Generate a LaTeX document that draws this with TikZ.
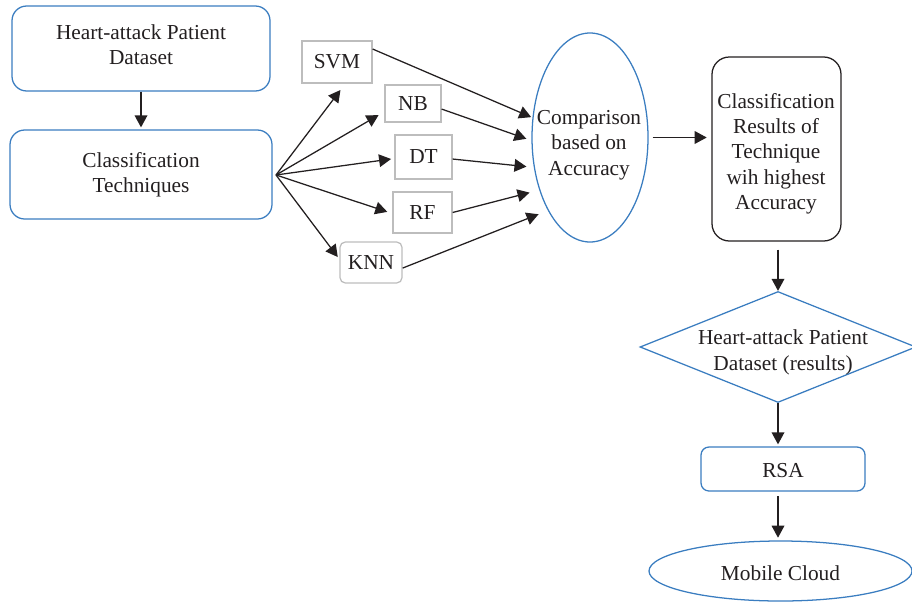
\documentclass[tikz,border=0pt]{standalone}
\usepackage{fontspec}
\setmainfont{Liberation Serif}
\usetikzlibrary{shapes.geometric,arrows.meta}
\definecolor{bl}{HTML}{3A7DC0}
\definecolor{gr}{HTML}{BDBDBD}
\definecolor{tx}{HTML}{231F20}
\begin{document}
\begin{tikzpicture}[x=0.75pt,y=-0.75pt,
  every node/.style={font=\fontsize{16}{19}\selectfont, text=tx, align=center, inner sep=0pt},
  bluebox/.style={draw=bl, line width=0.95pt, rounded corners=11pt},
  graybox/.style={draw=gr, line width=0.95pt},
  arr/.style={draw=tx, line width=0.95pt, -{Triangle[length=9pt,width=9.5pt]}},
]
\useasboundingbox (0,0) rectangle (912,603);

% left column
\node[bluebox, minimum width=193.5pt, minimum height=63.75pt] (ds) at (141,48.5) {};
\node (dst) at (141,44.5) {Heart-attack Patient\\Dataset};
\node[bluebox, minimum width=196.5pt, minimum height=66.75pt] (ct) at (141,174.5) {Classification\\Techniques};
\coordinate (fan) at (276,175);

% techniques
\node[graybox, minimum width=52.5pt, minimum height=31.5pt] (svm) at (337,62) {SVM};
\node[graybox, minimum width=42pt, minimum height=27.75pt] (nb) at (413,103.5) {NB};
\node[graybox, minimum width=42.75pt, minimum height=33pt] (dt) at (423.5,157) {DT};
\node[graybox, minimum width=44.25pt, minimum height=30.75pt] (rf) at (422.5,212.5) {RF};
\node[graybox, rounded corners=4pt, minimum width=46.5pt, minimum height=30.75pt] (knn) at (371,262.5) {KNN};

% comparison
\node[ellipse, draw=bl, line width=0.95pt, minimum width=87pt, minimum height=156.75pt] (cmp) at (590,137.5) {};
\node (cmpt) at (589,145) {Comparison\\based on\\Accuracy};

% result box
\node[draw=tx, line width=0.95pt, rounded corners=13pt, minimum width=96.75pt, minimum height=138pt] (res) at (776.5,149) {};
\node (rest) at (776,153.5) {Classification\\Results of\\Technique\\wih highest\\Accuracy};

% diamond
\node[diamond, draw=bl, line width=0.95pt, minimum width=207pt, minimum height=83.25pt] (dia) at (778,347) {};
\node (diat) at (783,352.5) {Heart-attack Patient\\Dataset (results)};

% RSA
\node[bluebox, rounded corners=6pt, minimum width=123pt, minimum height=33pt] (rsa) at (783,469) {};
\node (rsat) at (783,471) {RSA};

% cloud
\node[ellipse, draw=bl, line width=0.95pt, minimum width=197.25pt, minimum height=45pt] (cloud) at (780.5,571) {};
\node (cloudt) at (780.5,573) {Mobile Cloud};

% connectors
\draw[arr, shorten >=1.5pt] (ds.south) -- (ct.north);
\draw[arr, shorten >=6pt] (fan) -- (svm.-69);
\draw[arr, shorten >=5pt] (fan) -- (nb.-164);
\draw[arr, shorten >=2.5pt] (fan) -- (dt.183);
\draw[arr, shorten >=4pt] (fan) -- (rf.182);
\draw[arr, shorten >=2pt] (fan) -- (knn.174);

\draw[arr, shorten >=1pt] (svm.20) -- (cmp.161);
\draw[arr, shorten >=4pt] (nb.-11) -- (cmp.183.5);
\draw[arr, shorten >=5.5pt] (dt.-4) -- (cmp.208);
\draw[arr, shorten >=7.5pt] (rf.east) -- (cmp.226);
\draw[arr, shorten >=7.5pt] (knn.-10) -- (cmp.240);

\draw[arr, shorten <=3pt, shorten >=3.5pt] (cmp.east) -- (cmp.east -| res.west);
\draw[arr, shorten <=6pt] (dia.north |- res.south) -- (dia.north);
\draw[arr, shorten >=1.5pt] (dia.south) -- (dia.south |- rsa.north);
\draw[arr, shorten <=3.5pt, shorten >=2pt] (dia.south |- rsa.south) -- (dia.south |- cloud.north);
\end{tikzpicture}
\end{document}
